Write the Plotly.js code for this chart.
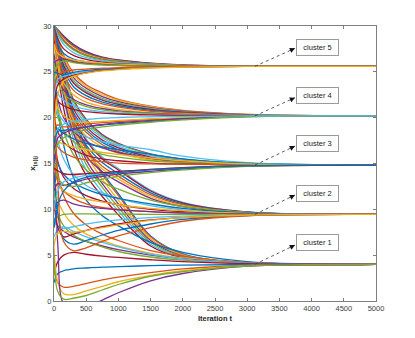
<!DOCTYPE html>
<html>
<head>
<meta charset="utf-8">
<script src="https://cdn.plot.ly/plotly-3.0.1.min.js"></script>
<style>
  html, body { margin: 0; padding: 0; background: #fff; }
  #chart { width: 415px; height: 338px; }
</style>
</head>
<body>
<div id="chart"></div>
<script>
const iters = [0, 60, 150, 300, 500, 750, 1000, 1500, 2000, 3000, 5000];

// cluster 5 trajectories (converge near 25.6)
const cluster5 = [
  [30, 29.6, 28.9, 28.0, 27.2, 26.6, 26.3, 25.95, 25.75, 25.62, 25.6],
  [30, 29.55, 28.8, 27.9, 27.1, 26.55, 26.25, 25.92, 25.73, 25.61, 25.6],
  [30, 29.5, 28.7, 27.8, 27.0, 26.5, 26.2, 25.9, 25.72, 25.61, 25.6],
  [30, 29.4, 28.5, 27.6, 26.9, 26.4, 26.15, 25.87, 25.7, 25.61, 25.6],
  [30, 29.3, 28.4, 27.5, 26.8, 26.35, 26.1, 25.85, 25.69, 25.6, 25.6],
  [30, 29.2, 28.3, 27.4, 26.75, 26.3, 26.08, 25.83, 25.68, 25.6, 25.6],
  [30, 29.0, 28.0, 27.1, 26.55, 26.2, 26.0, 25.8, 25.66, 25.6, 25.6],
  [30, 28.6, 27.5, 26.8, 26.35, 26.05, 25.9, 25.74, 25.64, 25.6, 25.6],
  [30, 28.0, 27.0, 26.4, 26.1, 25.9, 25.8, 25.7, 25.62, 25.6, 25.6],
  [29.5, 27.3, 26.6, 26.2, 25.95, 25.8, 25.72, 25.66, 25.61, 25.6, 25.6],
  [28, 27.0, 26.6, 26.3, 26.1, 25.95, 25.85, 25.72, 25.65, 25.6, 25.6],
  [26, 26.3, 26.4, 26.1, 25.9, 25.78, 25.7, 25.64, 25.61, 25.6, 25.6],
  [24, 25.8, 26.2, 26.0, 25.85, 25.75, 25.68, 25.63, 25.6, 25.6, 25.6],
  [22, 24.2, 24.5, 24.8, 25.05, 25.25, 25.35, 25.48, 25.55, 25.6, 25.6],
  [20, 23.6, 24.2, 24.6, 24.9, 25.15, 25.3, 25.45, 25.53, 25.59, 25.6],
  [25, 24.8, 24.7, 24.95, 25.15, 25.3, 25.4, 25.5, 25.56, 25.6, 25.6],
  [23, 24.6, 25.0, 25.2, 25.3, 25.4, 25.45, 25.52, 25.57, 25.6, 25.6],
  [18, 22.5, 24.0, 24.5, 24.85, 25.1, 25.25, 25.42, 25.52, 25.59, 25.6]
];

// cluster 4 trajectories (converge near 20.2)
const cluster4 = [
  [30, 28.6, 26.8, 24.9, 23.6, 22.7, 22.0, 21.25, 20.8, 20.37, 20.2],
  [30, 28.5, 26.6, 24.7, 23.4, 22.5, 21.9, 21.2, 20.75, 20.35, 20.2],
  [30, 28.3, 26.3, 24.4, 23.2, 22.3, 21.75, 21.1, 20.7, 20.33, 20.2],
  [30, 28.1, 26.0, 24.1, 22.95, 22.1, 21.6, 21.0, 20.65, 20.3, 20.2],
  [30, 27.9, 25.8, 23.9, 22.8, 22.0, 21.5, 20.95, 20.62, 20.29, 20.2],
  [30, 27.8, 25.7, 23.8, 22.7, 21.9, 21.45, 20.9, 20.6, 20.28, 20.2],
  [30, 27.5, 25.3, 23.4, 22.4, 21.7, 21.3, 20.8, 20.55, 20.26, 20.2],
  [30, 27.0, 24.8, 23.0, 22.1, 21.5, 21.15, 20.7, 20.5, 20.25, 20.2],
  [28, 25.5, 23.8, 22.5, 21.7, 21.2, 20.9, 20.55, 20.4, 20.23, 20.2],
  [27, 24.5, 23.0, 22.0, 21.4, 21.0, 20.75, 20.5, 20.35, 20.23, 20.2],
  [26, 23.8, 22.6, 21.8, 21.2, 20.85, 20.65, 20.45, 20.32, 20.22, 20.2],
  [24, 22.6, 21.9, 21.3, 20.9, 20.65, 20.5, 20.35, 20.27, 20.21, 20.2],
  [23, 21.8, 21.3, 20.9, 20.65, 20.5, 20.4, 20.3, 20.25, 20.21, 20.2],
  [17, 18.5, 18.6, 18.8, 19.0, 19.2, 19.35, 19.6, 19.85, 20.12, 20.2],
  [19, 19.2, 19.0, 19.1, 19.3, 19.45, 19.6, 19.8, 19.95, 20.15, 20.2],
  [22, 21.0, 20.2, 19.6, 19.5, 19.6, 19.7, 19.88, 20.0, 20.16, 20.2],
  [15, 17.8, 18.3, 18.7, 19.0, 19.25, 19.45, 19.7, 19.9, 20.14, 20.2],
  [16, 17.2, 17.8, 18.3, 18.7, 19.0, 19.2, 19.5, 19.75, 20.1, 20.2],
  [18, 18.8, 19.3, 19.6, 19.8, 19.95, 20.02, 20.1, 20.15, 20.19, 20.2]
];

// cluster 3 trajectories (converge near 14.8)
const cluster3 = [
  [30, 28.1, 25.4, 22.0, 19.8, 18.15, 17.2, 16.05, 15.48, 15.01, 14.83],
  [30, 28.0, 25.2, 21.8, 19.6, 18.0, 17.1, 16.0, 15.45, 15.0, 14.83],
  [30, 27.8, 24.8, 21.4, 19.3, 17.8, 16.9, 15.85, 15.38, 14.98, 14.83],
  [30, 27.5, 24.4, 21.0, 19.0, 17.55, 16.7, 15.7, 15.3, 14.95, 14.83],
  [30, 27.2, 24.0, 20.6, 18.7, 17.3, 16.5, 15.6, 15.22, 14.93, 14.83],
  [30, 26.8, 23.5, 20.2, 18.4, 17.05, 16.3, 15.5, 15.15, 14.9, 14.83],
  [30, 26.3, 23.0, 19.8, 18.0, 16.8, 16.1, 15.4, 15.08, 14.88, 14.83],
  [25, 22, 20.0, 18.5, 17.4, 16.7, 16.2, 15.6, 15.25, 14.95, 14.83],
  [22, 20, 18.6, 17.4, 16.6, 16.0, 15.7, 15.3, 15.1, 14.9, 14.83],
  [21, 20.5, 19.6, 18.6, 17.9, 17.4, 17.0, 16.5, 15.8, 15.1, 14.83],
  [20, 18.4, 17.3, 16.5, 15.9, 15.5, 15.3, 15.05, 14.95, 14.86, 14.83],
  [19, 18.8, 18.3, 17.7, 17.2, 16.8, 16.5, 16.0, 15.5, 15.0, 14.83],
  [18, 16.8, 16.2, 15.7, 15.4, 15.2, 15.05, 14.95, 14.9, 14.85, 14.83],
  [17, 17.3, 17.1, 16.8, 16.5, 16.2, 16.0, 15.6, 15.3, 14.95, 14.83],
  [12, 12.8, 12.6, 12.9, 13.3, 13.6, 13.85, 14.15, 14.4, 14.72, 14.83],
  [16, 13.5, 12.7, 12.5, 12.9, 13.3, 13.6, 14.0, 14.3, 14.7, 14.83],
  [10, 12.0, 13.0, 13.4, 13.7, 13.9, 14.1, 14.35, 14.55, 14.77, 14.83],
  [14.5, 14.2, 13.9, 13.8, 13.9, 14.0, 14.15, 14.35, 14.55, 14.76, 14.83],
  [8, 10.5, 12.0, 13.0, 13.5, 13.8, 14.0, 14.3, 14.5, 14.76, 14.83]
];

// cluster 2 trajectories (converge near 9.45)
const cluster2 = [
  [30, 27.9, 24.8, 20.5, 17.7, 15.7, 14.45, 12.1, 10.75, 9.71, 9.45],
  [30, 27.8, 24.6, 20.3, 17.5, 15.5, 14.3, 12.0, 10.7, 9.7, 9.45],
  [30, 27.5, 24.1, 19.8, 17.0, 15.1, 13.9, 11.8, 10.6, 9.68, 9.45],
  [30, 27.2, 23.6, 19.3, 16.6, 14.7, 13.6, 11.6, 10.5, 9.66, 9.45],
  [30, 26.8, 23.0, 18.8, 16.2, 14.4, 13.3, 11.4, 10.4, 9.64, 9.45],
  [30, 26.3, 22.4, 18.3, 15.8, 14.1, 13.0, 11.2, 10.3, 9.62, 9.45],
  [24, 21, 18.5, 16.0, 14.3, 13.0, 12.2, 11.0, 10.3, 9.65, 9.45],
  [20, 17.5, 15.5, 13.8, 12.6, 11.8, 11.2, 10.4, 9.95, 9.55, 9.45],
  [18, 15.2, 13.5, 12.3, 11.5, 10.9, 10.5, 10.0, 9.75, 9.5, 9.45],
  [16, 15.0, 13.8, 12.9, 12.2, 11.6, 11.2, 10.6, 10.1, 9.6, 9.45],
  [15, 13.0, 12.0, 11.2, 10.6, 10.2, 10.0, 9.75, 9.6, 9.48, 9.45],
  [13, 12.6, 12.0, 11.5, 11.1, 10.8, 10.5, 10.1, 9.85, 9.55, 9.45],
  [10, 10.8, 11.0, 10.6, 10.3, 10.1, 9.95, 9.75, 9.6, 9.5, 9.45],
  [8, 9.2, 9.45, 9.5, 9.5, 9.48, 9.47, 9.46, 9.45, 9.45, 9.45],
  [9, 8.0, 7.9, 8.1, 8.4, 8.65, 8.85, 9.1, 9.25, 9.42, 9.45],
  [11, 8.0, 7.0, 7.3, 7.7, 8.1, 8.4, 8.85, 9.1, 9.38, 9.45],
  [14, 9.5, 6.8, 6.2, 6.6, 7.2, 7.7, 8.4, 8.9, 9.33, 9.45],
  [26, 13, 6.5, 5.5, 5.8, 6.5, 7.1, 8.0, 8.7, 9.3, 9.45],
  [6, 7.4, 7.6, 7.5, 7.7, 8.0, 8.3, 8.8, 9.1, 9.38, 9.45]
];

// cluster 1 trajectories (converge near 4.0)
const cluster1 = [
  [30, 27.9, 25.0, 20.5, 16.8, 14.0, 11.7, 7.1, 5.15, 4.16, 4.0],
  [30, 27.8, 24.8, 20.3, 16.6, 13.8, 11.5, 7.0, 5.1, 4.15, 4.0],
  [30, 27.5, 24.2, 19.6, 16.0, 13.3, 11.0, 6.8, 5.0, 4.13, 4.0],
  [30, 27.1, 23.6, 19.0, 15.4, 12.8, 10.6, 6.6, 4.9, 4.12, 4.0],
  [30, 26.6, 23.0, 18.4, 14.9, 12.4, 10.2, 6.4, 4.85, 4.1, 4.0],
  [30, 26.0, 22.2, 17.7, 14.3, 11.9, 9.8, 6.2, 4.8, 4.1, 4.0],
  [29, 25.0, 21.0, 16.8, 13.7, 11.4, 9.4, 6.0, 4.7, 4.08, 4.0],
  [25, 21, 17, 13.5, 11.0, 9.3, 8.2, 6.4, 5.3, 4.3, 4.0],
  [18, 14, 11.5, 9.6, 8.3, 7.3, 6.6, 5.5, 4.9, 4.2, 4.0],
  [14, 11, 9.6, 8.3, 7.3, 6.6, 6.0, 5.2, 4.7, 4.15, 4.0],
  [9, 8.2, 7.6, 7.0, 6.5, 6.0, 5.6, 5.0, 4.6, 4.15, 4.0],
  [12, 9.5, 8.2, 7.2, 6.5, 5.9, 5.4, 4.8, 4.45, 4.1, 4.0],
  [7, 7.8, 8.1, 7.6, 7.0, 6.4, 5.9, 5.1, 4.6, 4.12, 4.0],
  [3, 4.3, 5.0, 5.3, 5.1, 4.9, 4.75, 4.5, 4.3, 4.08, 4.0],
  [2, 3.0, 3.3, 3.5, 3.6, 3.7, 3.75, 3.85, 3.92, 3.98, 4.0],
  [4, 2.0, 1.5, 1.6, 1.9, 2.3, 2.6, 3.1, 3.5, 3.9, 4.0],
  [6, 2.0, 0.8, 0.7, 1.1, 1.6, 2.1, 2.8, 3.3, 3.85, 4.0],
  [20, 6, -0.3, -0.8, -0.6, 0.1, 0.9, 2.2, 3.0, 3.8, 4.0],
  [5, 1.0, 0.2, 0.3, 0.6, 1.2, 1.8, 2.7, 3.2, 3.82, 4.0]
];

// consensus value of each cluster and its label
const clusterNames = ['cluster 1', 'cluster 2', 'cluster 3', 'cluster 4', 'cluster 5'];
const clusterFinal = [4.0, 9.45, 14.83, 20.2, 25.6];
const labelY = [6.35, 11.76, 17.2, 22.39, 27.65];
const arrowHeadY = [6.1, 11.56, 16.9, 22.18, 27.57];

const matlabColors = ['#0072BD', '#D95319', '#EDB120', '#7E2F8E', '#77AC30', '#4DBEEE', '#A2142F'];

let data = [];
[cluster1, cluster2, cluster3, cluster4, cluster5].forEach(function (group) {
  group.forEach(function (curve) {
    data.push({
      x: iters,
      y: curve,
      mode: 'lines',
      type: 'scatter',
      line: { width: 1.3, shape: 'spline' },
      hoverinfo: 'skip',
      showlegend: false
    });
  });
});

const tailX = 3120, headX = 3742, boxX = 4084;
let shapes = [];
let annotations = [];
for (let i = 0; i < clusterNames.length; i++) {
  // dotted leader from the cluster line up to the label
  shapes.push({
    type: 'line', xref: 'x', yref: 'y',
    x0: tailX, y0: clusterFinal[i], x1: headX, y1: arrowHeadY[i],
    line: { color: '#333', width: 0.8, dash: 'dot' }
  });
  // arrowhead only
  annotations.push({
    x: headX, y: arrowHeadY[i], xref: 'x', yref: 'y',
    ax: headX - (headX - tailX) * 0.15,
    ay: arrowHeadY[i] - (arrowHeadY[i] - clusterFinal[i]) * 0.15,
    axref: 'x', ayref: 'y',
    text: '', showarrow: true,
    arrowhead: 2, arrowsize: 1.3, arrowwidth: 0.8, arrowcolor: '#111'
  });
  // label box
  annotations.push({
    x: boxX, y: labelY[i], xref: 'x', yref: 'y',
    text: clusterNames[i], showarrow: false,
    font: { family: 'Arial, Liberation Sans, sans-serif', size: 7.5, color: '#222' },
    bgcolor: '#fff', bordercolor: '#9a9a9a', borderwidth: 1,
    width: 37, height: 11, borderpad: 2
  });
}

const axisFont = { family: 'Arial, Liberation Sans, sans-serif', size: 7.5, color: '#404040' };

let layout = {
  width: 415,
  height: 338,
  margin: { l: 54, r: 39, t: 26, b: 37 },
  paper_bgcolor: '#fff',
  plot_bgcolor: '#fff',
  colorway: matlabColors,
  showlegend: false,
  xaxis: {
    range: [0, 5000],
    dtick: 500,
    tick0: 0,
    ticks: 'inside',
    ticklen: 3,
    tickcolor: '#7f7f7f',
    showline: true,
    linecolor: '#7f7f7f',
    linewidth: 1,
    mirror: 'ticks',
    showgrid: false,
    zeroline: false,
    tickfont: axisFont,
    title: {
      text: '<b>Iteration t</b>',
      font: { family: 'Arial, Liberation Sans, sans-serif', size: 7.5, color: '#262626' },
      standoff: 3
    }
  },
  yaxis: {
    range: [0, 30],
    dtick: 5,
    tick0: 0,
    ticks: 'inside',
    ticklen: 3,
    tickcolor: '#7f7f7f',
    showline: true,
    linecolor: '#7f7f7f',
    linewidth: 1,
    mirror: 'ticks',
    showgrid: false,
    zeroline: false,
    tickfont: axisFont,
    title: {
      text: '<b>x<sub>(s)|j</sub></b>',
      font: { family: 'Arial, Liberation Sans, sans-serif', size: 8, color: '#262626' },
      standoff: 6
    }
  },
  shapes: shapes,
  annotations: annotations
};

Plotly.newPlot('chart', data, layout, { staticPlot: true, displayModeBar: false });
</script>
</body>
</html>
